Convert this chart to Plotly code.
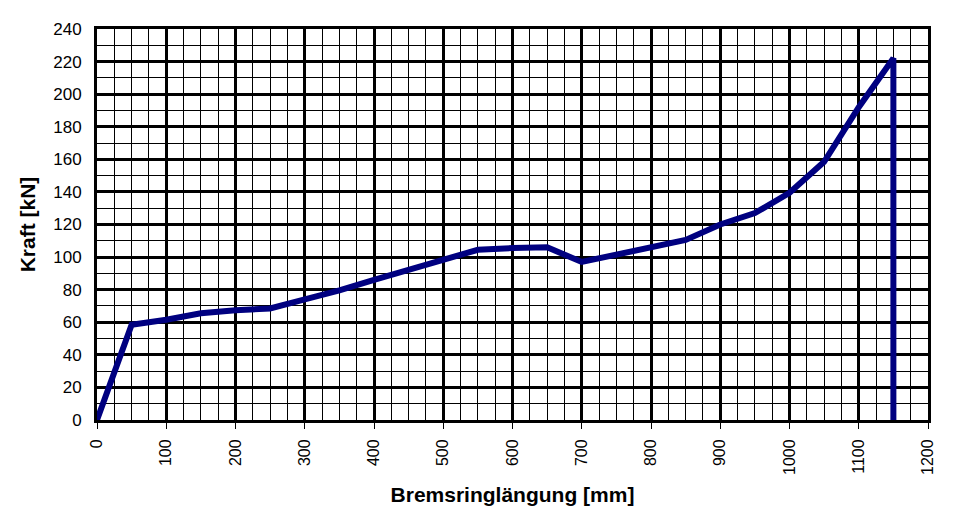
import plotly.graph_objects as go

x_mm = [0, 50, 100, 150, 200, 250, 300, 350, 400, 450, 500, 550, 600, 650,
        700, 750, 800, 850, 900, 950, 1000, 1050, 1100, 1150, 1150]
kraft_kn = [0, 58.5, 61.5, 65.5, 67.3, 68.5, 74, 79.5, 86, 92, 98, 104.5, 105.5, 106,
            97, 101.5, 106.5, 110.5, 120, 127, 139.5, 158.5, 192, 222, 0]

x_ticks = list(range(0, 1201, 100))
y_ticks = list(range(0, 241, 20))

font = "Liberation Sans, Arial, sans-serif"

fig = go.Figure()
fig.add_trace(go.Scatter(
    x=x_mm, y=kraft_kn, mode="lines",
    line=dict(color="#000080", width=6),
    showlegend=False, hoverinfo="skip",
))

fig.update_layout(
    width=960, height=526,
    margin=dict(l=97, r=32, t=29, b=106),
    paper_bgcolor="white", plot_bgcolor="white",
    font=dict(family=font, size=16, color="black"),
    xaxis=dict(
        range=[0, 1200], tickvals=x_ticks, ticktext=[str(v) for v in x_ticks],
        tickangle=-90, ticks="outside", ticklen=6, tickwidth=1, tickcolor="black",
        ticklabelstandoff=4,
        showgrid=True, gridcolor="black", gridwidth=3,
        minor=dict(dtick=25, tick0=0, showgrid=True, gridcolor="black", gridwidth=1, ticks=""),
        showline=True, linecolor="black", linewidth=3, mirror=True,
        zeroline=False,
        title=dict(text="<b>Bremsringlängung [mm]</b>", font=dict(size=21, family=font), standoff=14),
        tickfont=dict(size=16),
    ),
    yaxis=dict(
        range=[0, 240], tickvals=y_ticks, ticktext=[str(v) for v in y_ticks],
        ticks="", ticklabelstandoff=9,
        showgrid=True, gridcolor="black", gridwidth=3,
        minor=dict(dtick=10, tick0=0, showgrid=True, gridcolor="black", gridwidth=1, ticks=""),
        showline=True, linecolor="black", linewidth=3, mirror=True,
        zeroline=False,
        title=dict(text="<b>Kraft [kN]</b>", font=dict(size=21, family=font), standoff=12),
        tickfont=dict(size=17),
    ),
)

fig.write_html("out.html")
